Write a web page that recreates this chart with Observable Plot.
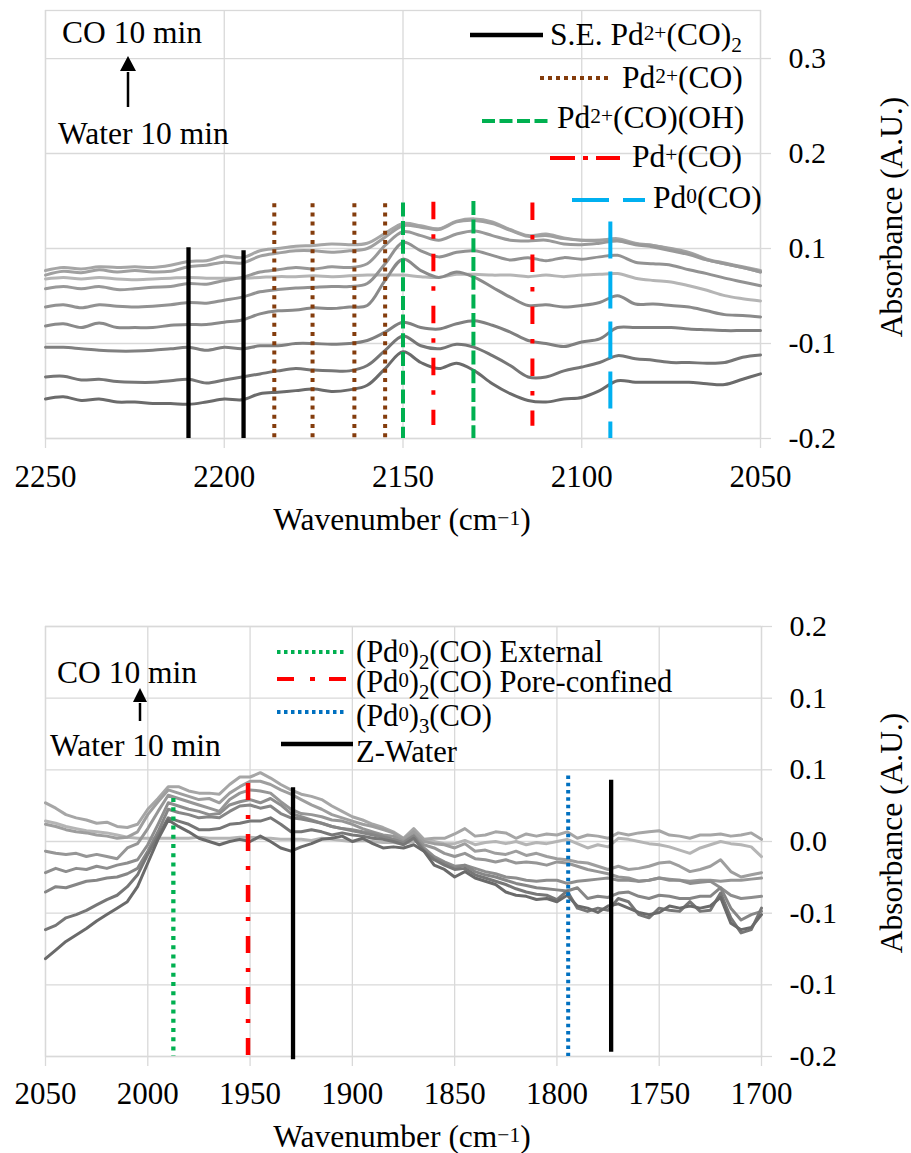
<!DOCTYPE html>
<html><head><meta charset="utf-8">
<script src="https://cdn.jsdelivr.net/npm/d3@7"></script>
<script src="https://cdn.jsdelivr.net/npm/@observablehq/plot@0.6"></script>
<style>
html,body{margin:0;padding:0;background:#fff;}
#chart{width:911px;height:1153px;position:relative;overflow:hidden;background:#fff;}
#chart svg{display:block;overflow:visible;}
#chart svg text{font-family:"Liberation Serif","Times New Roman",Times,serif;}
</style></head><body><div id="chart"></div>
<script>
// ---------------- TOP PANEL DATA ----------------
const topWavenumbers = [2250,2245,2240,2235,2230,2225,2220,2215,2210,2205,2200,2195,2190,2185,2180,2175,2170,2165,2160,2155,2150,2145,2140,2135,2130,2125,2120,2115,2110,2105,2100,2095,2090,2085,2080,2075,2070,2065,2060,2055,2050];
const topSpectrumFlat = [0.010,0.012,0.010,0.012,0.010,0.009,0.010,0.011,0.012,0.011,0.011,0.011,0.012,0.013,0.013,0.014,0.013,0.014,0.015,0.015,0.015,0.013,0.012,0.016,0.016,0.015,0.015,0.013,0.015,0.013,0.015,0.016,0.017,0.011,0.008,0.006,0.001,-0.005,-0.012,-0.016,-0.019];
const topSpectrumA = [0.021,0.025,0.023,0.026,0.025,0.026,0.025,0.028,0.033,0.034,0.040,0.038,0.047,0.050,0.053,0.054,0.056,0.055,0.057,0.070,0.083,0.080,0.076,0.086,0.089,0.085,0.075,0.067,0.069,0.064,0.061,0.061,0.063,0.057,0.054,0.050,0.045,0.036,0.031,0.026,0.021];
const topSpectrumB = [0.015,0.020,0.018,0.022,0.019,0.021,0.019,0.020,0.026,0.028,0.032,0.031,0.040,0.044,0.047,0.047,0.045,0.047,0.050,0.065,0.080,0.078,0.075,0.085,0.087,0.083,0.074,0.066,0.067,0.063,0.061,0.061,0.061,0.056,0.054,0.049,0.044,0.035,0.030,0.025,0.019];
const topSpectrumC = [-0.003,0.000,-0.003,0.000,-0.004,-0.003,-0.001,0.000,0.004,0.003,0.008,0.012,0.019,0.022,0.025,0.023,0.026,0.025,0.030,0.054,0.072,0.067,0.061,0.069,0.073,0.067,0.061,0.060,0.061,0.056,0.055,0.057,0.060,0.055,0.052,0.047,0.042,0.035,0.030,0.025,0.019];
const topSpectrumD = [-0.027,-0.024,-0.028,-0.024,-0.026,-0.027,-0.026,-0.024,-0.021,-0.022,-0.018,-0.014,-0.007,-0.004,-0.002,-0.001,0.000,0.000,0.004,0.030,0.058,0.047,0.039,0.045,0.047,0.041,0.035,0.038,0.034,0.038,0.036,0.039,0.041,0.032,0.030,0.028,0.022,0.017,0.011,0.006,0.001];
const topSpectrumE = [-0.052,-0.049,-0.054,-0.048,-0.054,-0.054,-0.054,-0.051,-0.050,-0.050,-0.047,-0.044,-0.036,-0.032,-0.031,-0.028,-0.029,-0.027,-0.025,0.008,0.036,0.021,0.012,0.019,0.012,-0.001,-0.014,-0.025,-0.024,-0.027,-0.025,-0.021,-0.012,-0.023,-0.023,-0.025,-0.027,-0.032,-0.037,-0.038,-0.040];
const topSpectrumF = [-0.080,-0.080,-0.082,-0.084,-0.085,-0.085,-0.084,-0.082,-0.080,-0.084,-0.080,-0.082,-0.078,-0.078,-0.075,-0.075,-0.076,-0.075,-0.071,-0.060,-0.047,-0.054,-0.056,-0.049,-0.045,-0.051,-0.060,-0.071,-0.075,-0.079,-0.073,-0.069,-0.054,-0.054,-0.054,-0.054,-0.056,-0.057,-0.058,-0.058,-0.058];
const topSpectrumG = [-0.119,-0.118,-0.123,-0.122,-0.125,-0.126,-0.126,-0.124,-0.122,-0.127,-0.123,-0.119,-0.115,-0.111,-0.108,-0.110,-0.111,-0.111,-0.104,-0.084,-0.065,-0.078,-0.082,-0.076,-0.080,-0.091,-0.104,-0.119,-0.119,-0.111,-0.106,-0.100,-0.091,-0.095,-0.097,-0.100,-0.100,-0.101,-0.100,-0.093,-0.090];
const topSpectrumH = [-0.148,-0.145,-0.150,-0.148,-0.152,-0.152,-0.154,-0.154,-0.155,-0.152,-0.148,-0.149,-0.141,-0.139,-0.137,-0.135,-0.138,-0.136,-0.130,-0.108,-0.086,-0.100,-0.108,-0.101,-0.111,-0.128,-0.141,-0.150,-0.152,-0.148,-0.146,-0.137,-0.124,-0.126,-0.126,-0.126,-0.126,-0.128,-0.129,-0.122,-0.115];

const topXTicks = [2250, 2200, 2150, 2100, 2050];
const topXTickLabels = ["2250", "2200", "2150", "2100", "2050"];
const topYTicks = [0.3, 0.175, 0.05, -0.075, -0.2];
const topYTickLabels = ["0.3", "0.2", "0.1", "-0.1", "-0.2"];

// band markers (top)
const seCO2Wavenumbers = [2210, 2194.6];
const seCO2Tops = [0.051, 0.047];
const pdCOWavenumbers = [2186, 2175.3, 2163.6, 2155];
const pdCOTops = [0.109, 0.109, 0.109, 0.109];
const pdCOOHWavenumbers = [2150, 2130.3];
const pdCOOHTops = [0.110, 0.112];
const pd1COWavenumbers = [2141.5, 2113.8];
const pd1COTops = [0.111, 0.110];
const pd1COBottoms = [-0.183, -0.184];
const pd0COWavenumbers = [2092];
const pd0COTops = [0.085];

// ---------------- BOTTOM PANEL DATA ----------------
const bottomWavenumbers = [2050,2045,2040,2035,2030,2025,2020,2015,2010,2005,2000,1995,1990,1985,1980,1975,1970,1965,1960,1955,1950,1945,1940,1935,1930,1925,1920,1915,1910,1905,1900,1895,1890,1885,1880,1875,1870,1865,1860,1855,1850,1845,1840,1835,1830,1825,1820,1815,1810,1805,1800,1795,1790,1785,1780,1775,1770,1765,1760,1755,1750,1745,1740,1735,1730,1725,1720,1715,1710,1705,1700];
const bottomSpectrumFlat = [0.019,0.017,0.014,0.012,0.010,0.009,0.008,0.006,0.004,0.003,0.003,0.003,
 0.003,0.003,0.003,0.004,0.003,0.003,0.003,0.004,0.004,0.003,0.003,0.002,0.002,
 0.002,0.001,0.003,0.002,0.001,0.000,0.001,0.000,-0.001,-0.001,-0.002,0.000,0.001,0.000,-0.002,-0.002,0.001,-0.003,-0.001,0.000,-0.002,0.000,-0.003,-0.001,-0.002,0.000,
 0.002,-0.002,-0.006,-0.003,-0.005,0.003,0.002,0.000,-0.002,-0.003,-0.005,-0.008,-0.011,-0.006,-0.003,0.000,-0.002,-0.003,-0.005,-0.014];
const bottomSpectrumA = [0.036,0.031,0.025,0.022,0.020,0.017,0.018,0.014,0.013,0.016,0.030,0.040,
 0.051,0.051,0.047,0.045,0.045,0.044,0.053,0.060,0.060,0.064,0.059,0.053,0.048,
 0.044,0.042,0.039,0.033,0.028,0.023,0.020,0.016,0.013,0.009,0.003,0.012,0.002,0.003,0.003,0.007,0.012,0.005,0.006,0.009,0.008,0.003,0.007,0.005,0.007,0.006,
 0.009,0.003,0.006,0.005,0.003,0.008,0.006,0.008,0.009,0.010,0.006,0.005,0.003,0.006,0.006,0.007,0.005,0.006,0.008,0.002];
const bottomSpectrumB = [0.016,0.014,0.011,0.009,0.008,0.006,0.005,0.003,0.004,0.009,0.025,0.037,
 0.048,0.045,0.042,0.039,0.040,0.036,0.045,0.051,0.056,0.056,0.053,0.048,0.044,
 0.039,0.034,0.030,0.025,0.022,0.019,0.016,0.014,0.011,0.008,0.002,0.009,0.000,-0.002,-0.003,-0.006,-0.002,-0.009,-0.008,-0.011,-0.012,-0.009,-0.013,-0.011,-0.014,-0.016,
 -0.017,-0.019,-0.020,-0.023,-0.026,-0.023,-0.026,-0.025,-0.023,-0.020,-0.019,-0.023,-0.028,-0.026,-0.023,-0.017,-0.028,-0.033,-0.031,-0.029];
const bottomSpectrumC = [-0.009,-0.011,-0.012,-0.011,-0.014,-0.012,-0.014,-0.016,-0.006,-0.002,0.012,0.028,
 0.043,0.040,0.037,0.034,0.031,0.028,0.039,0.045,0.048,0.047,0.045,0.037,0.030,
 0.026,0.025,0.023,0.020,0.019,0.016,0.012,0.009,0.006,0.005,0.000,0.006,-0.003,-0.006,-0.011,-0.014,-0.011,-0.016,-0.017,-0.019,-0.017,-0.020,-0.019,-0.020,-0.022,-0.019,
 -0.020,-0.023,-0.026,-0.028,-0.030,-0.033,-0.034,-0.037,-0.036,-0.034,-0.035,-0.036,-0.037,-0.036,-0.036,-0.037,-0.036,-0.036,-0.035,-0.034];
const bottomSpectrumD = [-0.029,-0.025,-0.028,-0.025,-0.026,-0.023,-0.025,-0.022,-0.020,-0.017,-0.003,0.016,
 0.036,0.033,0.030,0.028,0.025,0.026,0.034,0.037,0.039,0.036,0.040,0.034,0.026,
 0.023,0.020,0.017,0.014,0.012,0.011,0.009,0.008,0.005,0.002,-0.002,0.005,-0.006,-0.014,-0.019,-0.023,-0.022,-0.025,-0.028,-0.030,-0.033,-0.034,-0.036,-0.037,-0.036,-0.036,
 -0.039,-0.037,-0.036,-0.035,-0.034,-0.036,-0.036,-0.037,-0.036,-0.034,-0.036,-0.036,-0.039,-0.038,-0.037,-0.043,-0.050,-0.053,-0.052,-0.051];
const bottomSpectrumE = [-0.047,-0.042,-0.043,-0.040,-0.037,-0.036,-0.034,-0.033,-0.030,-0.025,-0.009,0.009,
 0.030,0.027,0.025,0.022,0.023,0.022,0.028,0.033,0.034,0.031,0.033,0.026,0.022,
 0.021,0.019,0.017,0.014,0.012,0.010,0.008,0.006,0.004,0.002,-0.001,0.005,-0.008,-0.016,-0.020,-0.025,-0.022,-0.028,-0.031,-0.033,-0.036,-0.039,-0.041,-0.043,-0.044,-0.045,
 -0.046,-0.043,-0.053,-0.051,-0.052,-0.048,-0.047,-0.051,-0.053,-0.050,-0.051,-0.053,-0.053,-0.051,-0.051,-0.043,-0.062,-0.073,-0.068,-0.065];
const bottomSpectrumF = [-0.082,-0.078,-0.071,-0.068,-0.064,-0.059,-0.054,-0.050,-0.042,-0.031,-0.012,0.005,
 0.022,0.019,0.016,0.011,0.011,0.012,0.016,0.017,0.019,0.019,0.022,0.016,0.009,
 0.009,0.011,0.009,0.006,0.008,0.006,0.005,0.003,0.002,0.000,-0.003,0.003,-0.009,-0.017,-0.022,-0.026,-0.025,-0.031,-0.034,-0.037,-0.040,-0.044,-0.047,-0.049,-0.050,-0.054,
 -0.046,-0.062,-0.065,-0.062,-0.064,-0.053,-0.056,-0.068,-0.071,-0.062,-0.064,-0.065,-0.056,-0.065,-0.064,-0.048,-0.071,-0.085,-0.082,-0.062];
const bottomSpectrumG = [-0.109,-0.101,-0.093,-0.087,-0.081,-0.074,-0.068,-0.062,-0.056,-0.042,-0.020,0.002,
 0.020,0.014,0.009,0.003,0.000,-0.003,0.000,0.002,0.000,0.005,0.000,-0.006,-0.009,
 -0.005,-0.002,0.002,0.003,0.005,0.000,0.003,-0.002,-0.006,-0.005,-0.006,-0.003,-0.009,-0.022,-0.026,-0.033,-0.028,-0.034,-0.037,-0.040,-0.047,-0.050,-0.051,-0.054,-0.053,-0.056,
 -0.050,-0.060,-0.062,-0.066,-0.060,-0.058,-0.062,-0.066,-0.068,-0.066,-0.060,-0.062,-0.060,-0.062,-0.060,-0.052,-0.076,-0.082,-0.080,-0.068];

const bottomXTicks = [2050, 2000, 1950, 1900, 1850, 1800, 1750, 1700];
const bottomXTickLabels = ["2050", "2000", "1950", "1900", "1850", "1800", "1750", "1700"];
const bottomYTicks = [0.2, 0.1333, 0.0667, 0, -0.0667, -0.1333, -0.2];
const bottomYTickLabels = ["0.2", "0.1", "0.1", "0.0", "-0.1", "-0.1", "-0.2"];

// band markers (bottom)
const extWavenumbers = [1987.5];
const extTops = [0.040];
const poreWavenumbers = [1951];
const poreTops = [0.054];
const pd3Wavenumbers = [1794.5];
const pd3Tops = [0.061];
const zWaterWavenumbers = [1929, 1773.5];
const zWaterTops = [0.050, 0.057];
const zWaterBottoms = [-0.203, -0.196];

// text content
const topLegendLabels = [
  [["S.E. Pd"], ["2+", "sup"], ["(CO)"], ["2", "sub"]],
  [["Pd"], ["2+", "sup"], ["(CO)"]],
  [["Pd"], ["2+", "sup"], ["(CO)(OH)"]],
  [["Pd"], ["+", "sup"], ["(CO)"]],
  [["Pd"], ["0", "sup"], ["(CO)"]]
];
const bottomLegendLabels = [
  [["(Pd"], ["0", "sup"], [")"], ["2", "sub"], ["(CO) External"]],
  [["(Pd"], ["0", "sup"], [")"], ["2", "sub"], ["(CO) Pore-confined"]],
  [["(Pd"], ["0", "sup"], [")"], ["3", "sub"], ["(CO)"]],
  [["Z-Water"]]
];
const xTitle = [["Wavenumber (cm"], ["\u22121", "sup"], [")"]];
const yTitle = [["Absorbance (A.U.)"]];
const startLabel = "Water 10 min";
const endLabel = "CO 10 min";

// ---------------- STYLES ----------------
const FONT = '"Liberation Serif", "Times New Roman", Times, serif';
const GRID = "#d9d9d9";
const topSpectra = [topSpectrumFlat, topSpectrumA, topSpectrumB, topSpectrumC, topSpectrumD, topSpectrumE, topSpectrumF, topSpectrumG, topSpectrumH];
const topShades = ["#b5b5b5", "#a6a6a6", "#a0a0a0", "#999999", "#929292", "#8a8a8a", "#808080", "#767676", "#6b6b6b"];
const bottomSpectra = [bottomSpectrumFlat, bottomSpectrumA, bottomSpectrumB, bottomSpectrumC, bottomSpectrumD, bottomSpectrumE, bottomSpectrumF, bottomSpectrumG];
const bottomShades = ["#b5b5b5", "#a6a6a6", "#9e9e9e", "#969696", "#8e8e8e", "#868686", "#777777", "#6a6a6a"];

function labeller(ticks, labels) {
  const m = new Map(ticks.map((t, i) => [t, labels[i]]));
  return d => m.get(d);
}

function frameMarks(xTicks, xLabels, yTicks, yLabels, padX) {
  return [
    Plot.gridX({ticks: xTicks, stroke: GRID, strokeOpacity: 1, strokeWidth: 1.3}),
    Plot.gridY({ticks: yTicks, stroke: GRID, strokeOpacity: 1, strokeWidth: 1.3}),
    Plot.frame({stroke: GRID, strokeWidth: 1.3}),
    Plot.axisX({ticks: xTicks, tickFormat: labeller(xTicks, xLabels), tickSize: 10, tickPadding: padX,
      stroke: GRID, strokeWidth: 1.3, fill: "black", fontSize: 31, label: null}),
    Plot.axisY({anchor: "right", ticks: yTicks, tickFormat: labeller(yTicks, yLabels), tickSize: 10, tickPadding: 18,
      stroke: GRID, strokeWidth: 1.3, fill: "black", fontSize: 30, label: null})
  ];
}

const plotStyle = {fontFamily: FONT, fontSize: "31px", color: "black", background: "white", overflow: "visible"};

const topPlot = Plot.plot({
  width: 911, height: 580,
  marginTop: 10, marginBottom: 142, marginLeft: 45, marginRight: 151,
  style: plotStyle,
  x: {domain: [2250, 2050]},
  y: {domain: [-0.2, 0.3632]},
  marks: [
    ...frameMarks(topXTicks, topXTickLabels, topYTicks, topYTickLabels, 16),
    ...topSpectra.map((s, i) => Plot.lineY(s, {x: topWavenumbers, stroke: topShades[i], strokeWidth: 3, curve: "catmull-rom"})),
    Plot.ruleX(seCO2Wavenumbers, {x: d => d, y1: seCO2Tops, y2: -0.2, stroke: "#000000", strokeWidth: 4.3}),
    Plot.ruleX(pdCOWavenumbers, {x: d => d, y1: pdCOTops, y2: -0.2, stroke: "#843C0C", strokeWidth: 4, strokeDasharray: "4 5.2"}),
    Plot.ruleX(pdCOOHWavenumbers, {x: d => d, y1: pdCOOHTops, y2: -0.2, stroke: "#00B050", strokeWidth: 4, strokeDasharray: "14 4.7"}),
    Plot.ruleX(pd1COWavenumbers, {x: d => d, y1: pd1COTops, y2: pd1COBottoms, stroke: "#FF0000", strokeWidth: 4, strokeDasharray: "17.5 15 4.5 15"}),
    Plot.ruleX(pd0COWavenumbers, {x: d => d, y1: pd0COTops, y2: -0.2, stroke: "#00B0F0", strokeWidth: 4, strokeDasharray: "37 13"})
  ]
});

const bottomPlot = Plot.plot({
  width: 911, height: 573,
  marginTop: 46, marginBottom: 97, marginLeft: 45, marginRight: 150,
  style: plotStyle,
  x: {domain: [2050, 1700]},
  y: {domain: [-0.2, 0.2]},
  marks: [
    ...frameMarks(bottomXTicks, bottomXTickLabels, bottomYTicks, bottomYTickLabels, 15),
    ...bottomSpectra.map((s, i) => Plot.lineY(s, {x: bottomWavenumbers, stroke: bottomShades[i], strokeWidth: 3})),
    Plot.ruleX(extWavenumbers, {x: d => d, y1: extTops, y2: -0.2, stroke: "#00B050", strokeWidth: 4.3, strokeDasharray: "4 5.2"}),
    Plot.ruleX(poreWavenumbers, {x: d => d, y1: poreTops, y2: -0.2, stroke: "#FF0000", strokeWidth: 4.5, strokeDasharray: "17 15 4 15"}),
    Plot.ruleX(pd3Wavenumbers, {x: d => d, y1: pd3Tops, y2: -0.2, stroke: "#0070C0", strokeWidth: 4, strokeDasharray: "3.5 3.8"}),
    Plot.ruleX(zWaterWavenumbers, {x: d => d, y1: zWaterTops, y2: zWaterBottoms, stroke: "#000000", strokeWidth: 4.3})
  ]
});

const root = document.getElementById("chart");
root.appendChild(topPlot);
root.appendChild(bottomPlot);

// ---------------- ANNOTATIONS / LEGENDS ----------------
function rich(g, x, y, segs, {size = 31.5, anchor = "start", transform = null} = {}) {
  const t = g.append("text").attr("x", x).attr("y", y).attr("font-size", size)
    .attr("font-family", FONT).attr("fill", "black").attr("text-anchor", anchor);
  if (transform) t.attr("transform", transform);
  let shift = 0;
  for (const [s, kind] of segs) {
    const target = kind === "sup" ? -0.17 * size : kind === "sub" ? 0.22 * size : 0;
    const ts = t.append("tspan").text(s).attr("dy", target - shift);
    if (kind) ts.attr("font-size", size * 0.68);
    shift = target;
  }
  return t;
}
function sample(g, x1, x2, y, color, width, dash) {
  const l = g.append("line").attr("x1", x1).attr("x2", x2).attr("y1", y).attr("y2", y)
    .attr("stroke", color).attr("stroke-width", width);
  if (dash) l.attr("stroke-dasharray", dash);
}
function arrow(g, x, yTip, yHeadBase, yTail, halfW) {
  g.append("line").attr("x1", x).attr("x2", x).attr("y1", yTail).attr("y2", yHeadBase + 1)
    .attr("stroke", "black").attr("stroke-width", 2.5);
  g.append("path").attr("d", `M${x},${yTip} L${x - halfW},${yHeadBase} L${x + halfW},${yHeadBase} Z`).attr("fill", "black");
}

// top overlay
{
  const g = d3.select(topPlot).append("g");
  rich(g, 62, 43, [[endLabel]]);
  rich(g, 58, 144, [[startLabel]]);
  arrow(g, 128, 56, 71, 107, 8);
  const rows = [
    {x1: 470, x2: 543, y: 35, c: "#000000", w: 4.3, d: null, tx: 550, ty: 45},
    {x1: 540, x2: 610, y: 78, c: "#843C0C", w: 4, d: "4 4", tx: 622, ty: 88},
    {x1: 482, x2: 552, y: 121, c: "#00B050", w: 4, d: "13 4.5", tx: 557, ty: 128},
    {x1: 550, x2: 620, y: 158, c: "#FF0000", w: 4, d: "25 8 5 8", tx: 632, ty: 167},
    {x1: 572, x2: 645, y: 200, c: "#00B0F0", w: 4, d: "37 14", tx: 653, ty: 208}
  ];
  rows.forEach((r, i) => {
    sample(g, r.x1, r.x2, r.y, r.c, r.w, r.d);
    rich(g, r.tx, r.ty, topLegendLabels[i]);
  });
  rich(g, 402, 530, xTitle, {anchor: "middle"});
  rich(g, 0, 0, yTitle, {anchor: "middle", transform: "translate(902,217) rotate(-90)"});
}

// bottom overlay
{
  const g = d3.select(bottomPlot).append("g");
  rich(g, 57, 103, [[endLabel]]);
  rich(g, 50, 176, [[startLabel]]);
  arrow(g, 140, 108, 122, 141, 7);
  const rows = [
    {x1: 277, x2: 347, y: 72, c: "#00B050", w: 4, d: "3.5 3.5", ty: 82},
    {x1: 277, x2: 347, y: 99, c: "#FF0000", w: 4, d: "17 16 5 14", ty: 112},
    {x1: 277, x2: 347, y: 132, c: "#0070C0", w: 4, d: "3.5 3.5", ty: 146},
    {x1: 281, x2: 353, y: 164, c: "#000000", w: 4.3, d: null, ty: 182}
  ];
  rows.forEach((r, i) => {
    sample(g, r.x1, r.x2, r.y, r.c, r.w, r.d);
    rich(g, 356, r.ty, bottomLegendLabels[i], {size: 30.5});
  });
  rich(g, 402, 567, xTitle, {anchor: "middle"});
  rich(g, 0, 0, yTitle, {anchor: "middle", transform: "translate(902,253) rotate(-90)"});
}

// make sure every text (including Plot's tick labels) uses the serif face
d3.selectAll("#chart svg text").attr("font-family", FONT).style("font-family", FONT);
</script></body></html>
